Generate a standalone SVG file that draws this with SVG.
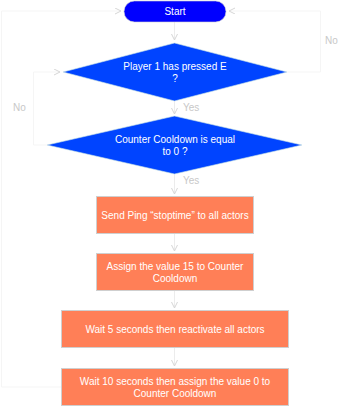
<svg xmlns="http://www.w3.org/2000/svg" width="349" height="406" viewBox="0 0 349 406">
<style>
text{font-family:"Liberation Sans",Arial,sans-serif;}
.t{fill:#fff;font-size:10px;text-anchor:middle;}
.lbl{fill:#c8c8c8;font-size:10px;}
.c{fill:none;stroke:#ececec;stroke-width:1;}
.lp{fill:none;stroke:#f5f5f5;stroke-width:1;}
.box{fill:#ff7f57;stroke:#cfcfcf;stroke-width:1;}
.dia{fill:#0044ff;stroke:#c9e4e4;stroke-width:0.6;}
</style>
<defs>
<marker id="ah" markerWidth="8" markerHeight="8" refX="6" refY="3" orient="auto" markerUnits="userSpaceOnUse">
<path d="M0,0 L6,3 L0,6" fill="none" stroke="#d6d6d6" stroke-width="1"/>
</marker>
</defs>
<rect width="349" height="406" fill="#fff"/>
<g id="connectors">
<path class="c" d="M174.5,22 V40" marker-end="url(#ah)"/>
<path class="c" d="M174.5,101 V114" marker-end="url(#ah)"/>
<path class="c" d="M174.5,174 V194" marker-end="url(#ah)"/>
<path class="c" d="M174.5,233 V251" marker-end="url(#ah)"/>
<path class="c" d="M174.5,291 V308" marker-end="url(#ah)"/>
<path class="c" d="M174.5,348 V366" marker-end="url(#ah)"/>
<path class="lp" d="M287,72 H320.5 V11 H229" marker-end="url(#ah)"/>
<path class="lp" d="M47,145 H33.5 V72 H60" marker-end="url(#ah)"/>
<path class="lp" d="M61,387 H1.5 V11 H121" marker-end="url(#ah)"/>
<text class="lbl" x="325" y="44">No</text>
<text class="lbl" x="13" y="111">No</text>
<text class="lbl" x="183" y="111">Yes</text>
<text class="lbl" x="183" y="184">Yes</text>
</g>
<g id="start">
<rect x="124" y="1" width="102" height="21" rx="10.5" fill="#0000ff" stroke="#d0d0d0" stroke-width="0.6"/>
<text class="t" x="175" y="15">Start</text>
</g>
<g id="decision1">
<polygon class="dia" points="174.5,43 287,72 174.5,101 63,72"/>
<text class="t" x="175" y="70">Player 1 has pressed E</text>
<text class="t" x="175" y="82">?</text>
</g>
<g id="decision2">
<polygon class="dia" points="174.5,116 302,145 174.5,174 47,145"/>
<text class="t" x="175" y="143">Counter Cooldown is equal</text>
<text class="t" x="175" y="155">to 0 ?</text>
</g>
<g id="step1">
<rect class="box" x="96.5" y="196.5" width="157" height="37"/>
<text class="t" x="175" y="219">Send Ping “stoptime” to all actors</text>
</g>
<g id="step2">
<rect class="box" x="96.5" y="253.5" width="157" height="37"/>
<text class="t" x="175" y="270">Assign the value 15 to Counter</text>
<text class="t" x="175" y="282">Cooldown</text>
</g>
<g id="step3">
<rect class="box" x="61.5" y="310.5" width="227" height="37"/>
<text class="t" x="175" y="333">Wait 5 seconds then reactivate all actors</text>
</g>
<g id="step4">
<rect class="box" x="61.5" y="368.5" width="227" height="37"/>
<text class="t" x="175" y="385">Wait 10 seconds then assign the value 0 to</text>
<text class="t" x="175" y="397">Counter Cooldown</text>
</g>
</svg>
